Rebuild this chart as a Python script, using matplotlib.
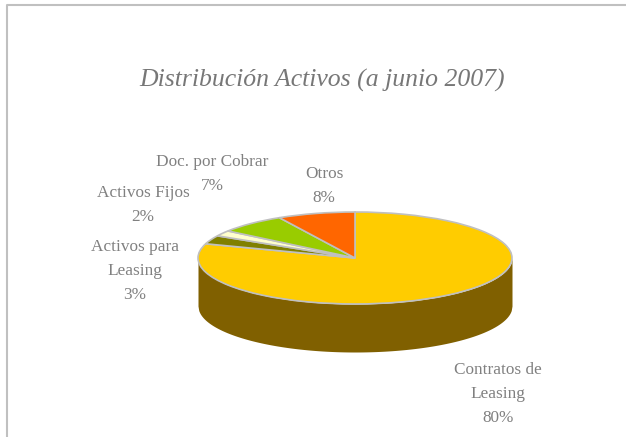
import numpy as np
import matplotlib
matplotlib.use("Agg")
import matplotlib.pyplot as plt

names = ["Contratos de\nLeasing", "Activos para\nLeasing", "Activos Fijos", "Doc. por Cobrar", "Otros"]
values = [80, 3, 2, 7, 8]
colors = ["#FFCC00", "#808000", "#FFFFCC", "#99CC00", "#FF6600"]
wall_color = "#806000"
label_x = [498, 135, 143, 212, 324]
label_y = [394, 271, 205, 174, 186]

W, H = 626, 437
cx, cy = 355, 258     # pie centre in px
rx, ry = 157, 46      # ellipse radii
depth = 48

plt.rcParams['font.family'] = ['Liberation Serif', 'DejaVu Serif']
grey = "#808080"

fig = plt.figure(figsize=(W/100, H/100), dpi=100)
ax = fig.add_axes([0, 0, 1, 1])

# squashed pie: one data unit is rx px across and ry px down
ax.pie(values, colors=colors, startangle=90, counterclock=False, radius=1,
       wedgeprops=dict(edgecolor="#C0C0C0", linewidth=1.2, zorder=3))
ax.set_aspect('auto')
ax.set_xlim(-cx/rx, (W-cx)/rx)
ax.set_ylim(-(H-cy)/ry, cy/ry)
ax.axis('off')

# side wall below the front half of the ellipse
x = np.linspace(-1, 1, 400)
front = -np.sqrt(1 - x**2)
ax.fill_between(x, front, front - depth/ry, color=wall_color, lw=0, zorder=1)

# chart frame, only top and left are visible
fig.add_artist(plt.Line2D([7/W, 7/W, 1], [0, 1-5/H, 1-5/H], color="#C0C0C0", lw=1.5))

fig.text(322/W, 1-80/H, "Distribución Activos (a junio 2007)", color="#777777", fontsize=18.5,
         style='italic', ha='center', va='center')
for n, v, lx, ly in zip(names, values, label_x, label_y):
    fig.text(lx/W, 1-ly/H, f"{n}\n{v}%", color=grey, fontsize=12.4, ha='center', va='center',
             linespacing=1.7)

fig.savefig("out.png", dpi=100, facecolor="white")
